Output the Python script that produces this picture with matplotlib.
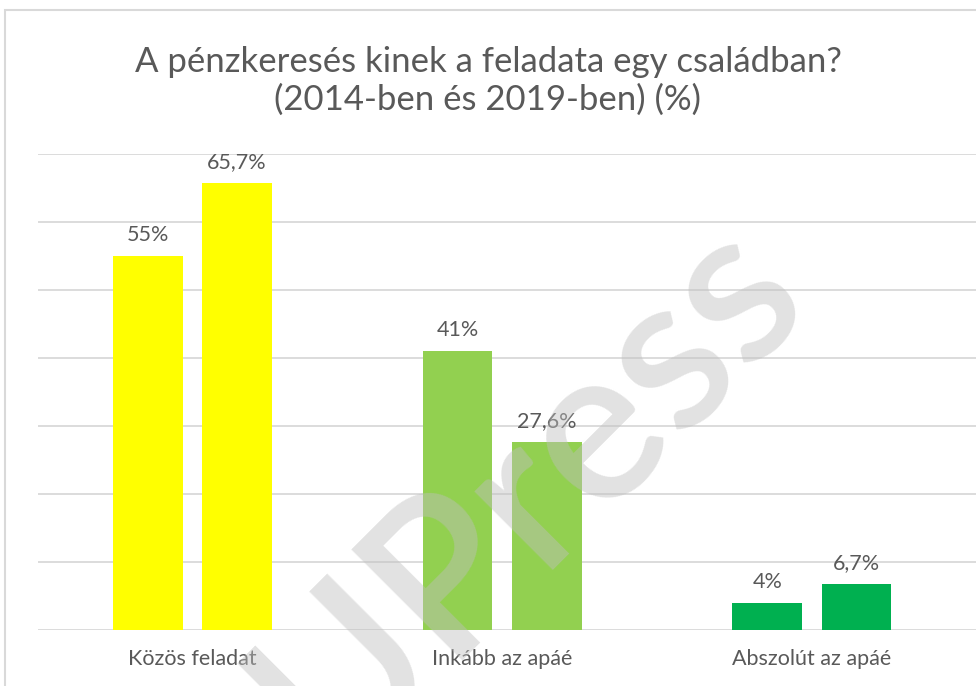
import numpy as np
import matplotlib.pyplot as plt
from matplotlib.patches import Rectangle

# data
categories = ['Közös feladat', 'Inkább az apáé', 'Abszolút az apáé']
values_2014 = [55, 41, 4]
values_2019 = [65.7, 27.6, 6.7]
labels_2014 = ['55%', '41%', '4%']
labels_2019 = ['65,7%', '27,6%', '6,7%']
bar_colors = ['#FFFF00', '#92D050', '#00B050']

plt.rcParams['font.family'] = ['Lato', 'DejaVu Sans']
text_color = '#595959'

fig = plt.figure(figsize=(9.76, 6.86), dpi=100)
ax = fig.add_axes([0.0385, 0.0816, 0.9615, 0.694])

x = np.arange(len(categories))
width = 0.225
offset = 0.144
b1 = ax.bar(x - offset, values_2014, width, color=bar_colors, zorder=2)
b2 = ax.bar(x + offset, values_2019, width, color=bar_colors, zorder=2)

for bars, labs in [(b1, labels_2014), (b2, labels_2019)]:
    for rect, lab in zip(bars, labs):
        ax.annotate(lab, (rect.get_x() + rect.get_width() / 2, rect.get_height()),
                    xytext=(0, 8), textcoords='offset points', ha='center', va='bottom',
                    fontsize=15.5, color=text_color)

ax.set_ylim(0, 70)
ax.set_xlim(-0.5, 2.53)
ax.set_yticks(np.arange(0, 71, 10))
ax.yaxis.grid(True, color='#D9D9D9', linewidth=1.3, zorder=0)
ax.set_axisbelow(True)
ax.tick_params(axis='y', left=False, labelleft=False)
ax.tick_params(axis='x', length=0, pad=14, labelsize=15.5, labelcolor=text_color)
ax.set_xticks(x)
ax.set_xticklabels(categories)
for s in ax.spines.values():
    s.set_visible(False)

fig.text(0.5, 1 - 81 / 686, 'A pénzkeresés kinek a feladata egy családban?\n(2014-ben és 2019-ben) (%)',
         ha='center', va='center', fontsize=25, color=text_color, linespacing=1.2)

# chart border
fig.add_artist(Rectangle((5 / 976, -0.1), 1.2, 1.1 - 10 / 686, transform=fig.transFigure,
                         fill=False, edgecolor='#D9D9D9', linewidth=1.5))

# watermark, anchored at the end of the last letter
fig.text(810 / 976, 1 - 296 / 686, 'UPress', rotation=45, rotation_mode='anchor',
         ha='right', va='baseline', fontsize=156, fontweight='semibold',
         color='#BFBFBF', alpha=0.45, zorder=10)

fig.savefig('out.png', dpi=100)
